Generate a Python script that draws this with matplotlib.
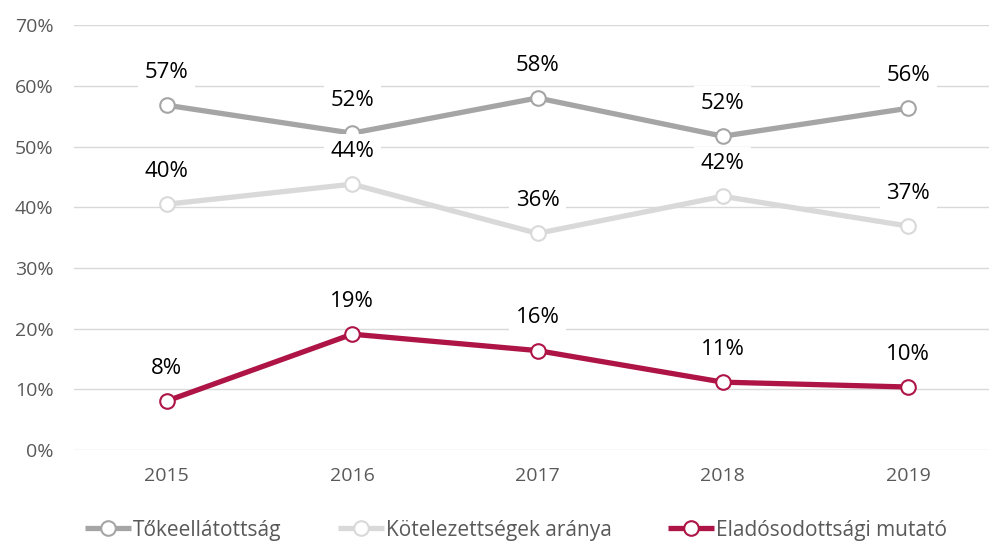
import matplotlib
matplotlib.use("Agg")
import matplotlib.pyplot as plt
from matplotlib.ticker import PercentFormatter

years = ["2015", "2016", "2017", "2018", "2019"]
tokeellatottsag = [0.568, 0.522, 0.580, 0.517, 0.563]
kotelezettsegek = [0.405, 0.438, 0.357, 0.418, 0.369]
eladosodottsag = [0.081, 0.191, 0.164, 0.112, 0.104]

series_names = ["Tőkeellátottság", "Kötelezettségek aránya",
                "Eladósodottsági mutató"]
colors = ["#A5A5A5", "#D9D9D9", "#AE1446"]

plt.rcParams['font.family'] = ['Open Sans', 'DejaVu Sans']

fig = plt.figure(figsize=(9.89, 5.45), dpi=100)
ax = fig.add_axes([0.075, 0.174, 0.937, 0.78])

x = range(len(years))
for vals, name, col in zip([tokeellatottsag, kotelezettsegek, eladosodottsag],
                           series_names, colors):
    ax.plot(x, vals, color=col, lw=3.8, marker='o', markersize=10.5,
            markerfacecolor='white', markeredgecolor=col,
            markeredgewidth=1.5, label=name, zorder=3, solid_capstyle='butt')
    for xi, v in zip(x, vals):
        ax.annotate(f"{v * 100:.0f}%", (xi, v), xytext=(0, 23.5),
                    textcoords='offset points', ha='center', va='center',
                    fontsize=16, color='black', zorder=5,
                    bbox=dict(boxstyle='square,pad=0.3', fc='white',
                              ec='none'))

ax.set_xlim(-0.5, 4.5)
ax.set_ylim(0, 0.7)
ax.set_yticks([i / 10 for i in range(8)])
ax.yaxis.set_major_formatter(PercentFormatter(1.0, decimals=0))
ax.set_xticks(list(x))
ax.set_xticklabels(years)
ax.tick_params(length=0, labelsize=14, colors='#595959')
ax.tick_params(axis='x', pad=12)
ax.tick_params(axis='y', pad=15)
ax.grid(axis='y', color='#D9D9D9', lw=1)
ax.set_axisbelow(True)
for s in ax.spines.values():
    s.set_visible(False)

fig.legend(loc='center', bbox_to_anchor=(0.522, 0.027), ncol=3,
           frameon=False, fontsize=15, handlelength=2.2, columnspacing=2.7,
           handletextpad=0.1, labelcolor='#595959')

fig.savefig("out.png", dpi=100)
